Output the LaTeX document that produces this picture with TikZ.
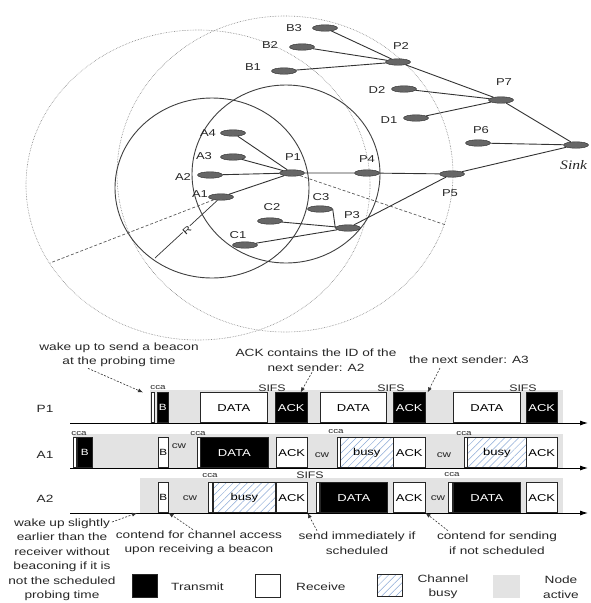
\documentclass[tikz,border=0pt]{standalone}
\usepackage{fontspec}
\setmainfont{Liberation Sans}[FakeStretch=1.3]
\newfontfamily\sinkfont{Liberation Serif}[FakeStretch=1.2]
\usetikzlibrary{arrows.meta,shapes.geometric,patterns.meta}

\definecolor{hatch}{RGB}{140,170,215}
\newcommand{\labfont}{\fontsize{10}{12}\selectfont}
\newcommand{\notefont}{\fontsize{10.5}{14.5}\selectfont}
\newcommand{\ccafont}{\fontsize{7.5}{8}\selectfont}
\newcommand{\cwfont}{\fontsize{9}{10}\selectfont}
\newcommand{\sifsfont}{\fontsize{9.5}{10}\selectfont}

\tikzset{
  mote/.style={ellipse, draw=black!85, fill=black!60, minimum width=25pt, minimum height=6.5pt, inner sep=0pt},
  link/.style={draw=black!80, line width=0.9pt},
  tag/.style={font=\labfont, text=black!85, inner sep=0pt},
  reach/.style={draw=black!75, line width=0.9pt},
  farreach/.style={draw=black!50, line width=0.6pt, densely dotted},
  spoke/.style={draw=black!65, line width=0.7pt, densely dashed},
  slot/.style={draw=black!85, line width=0.6pt, minimum height=30pt, inner sep=0pt, anchor=south west, font=\labfont},
  tx/.style={slot, fill=black, text=white},
  rx/.style={slot, fill=white},
  busy/.style={slot, preaction={fill=white}, pattern={Lines[angle=45,distance=5pt,line width=0.5pt]}, pattern color=hatch},
  cca/.style={slot, fill=white, minimum width=3pt},
  awake/.style={fill=black!11},
  note/.style={font=\notefont, align=center, text=black!85, inner sep=1pt},
  ccatag/.style={font=\ccafont, text=black!85, inner sep=0pt},
  cwtag/.style={font=\cwfont, text=black!85, inner sep=0pt},
  sifstag/.style={font=\sifsfont, text=black!85, inner sep=0pt},
  hint/.style={draw=black!80, line width=0.6pt, dash pattern=on 2pt off 1.5pt, -{Latex[length=5pt,width=4pt]}},
  timeline/.style={draw=black, line width=0.9pt, -{Latex[length=8pt,width=5pt]}},
}

\begin{document}
\begin{tikzpicture}[x=1pt,y=-1pt]
\useasboundingbox (0,0) rectangle (591,603);

% radio ranges
\draw[farreach] (198,185) ellipse [x radius=172, y radius=155];
\draw[farreach] (285,174) ellipse [x radius=168, y radius=158];
\draw[reach] (212,188) ellipse [x radius=97, y radius=90];
\draw[reach] (286,174) ellipse [x radius=94, y radius=89];

% sensor nodes
\node[mote] (B3) at (325,28) {};
\node[mote] (B2) at (302,47) {};
\node[mote] (B1) at (284,71) {};
\node[mote] (P2) at (398,62) {};
\node[mote] (D2) at (404,89) {};
\node[mote] (D1) at (416,118) {};
\node[mote] (P7) at (501,100) {};
\node[mote] (P6) at (478,143) {};
\node[mote] (Sink) at (576,145) {};
\node[mote] (P1) at (292,173) {};
\node[mote] (P4) at (367,173) {};
\node[mote] (P5) at (452,174) {};
\node[mote] (P3) at (348,228) {};
\node[mote] (C3) at (320,209) {};
\node[mote] (C2) at (270,221) {};
\node[mote] (C1) at (245,245) {};
\node[mote] (A4) at (233,133) {};
\node[mote] (A3) at (233,157) {};
\node[mote] (A2) at (210,175) {};
\node[mote] (A1) at (221,197) {};

\node[tag] (lB3) at (294,28) {B3};
\node[tag] (lB2) at (270,45) {B2};
\node[tag] (lB1) at (253,67) {B1};
\node[tag] (lP2) at (401,46) {P2};
\node[tag] (lD2) at (377,90) {D2};
\node[tag] (lD1) at (389,120) {D1};
\node[tag] (lP7) at (504,82) {P7};
\node[tag] (lP6) at (481,130) {P6};
\node[anchor=west, inner sep=0pt, text=black!85, font=\fontsize{13}{15}\sinkfont\itshape] (lSink) at (560,165) {Sink};
\node[tag] (lP1) at (293,157) {P1};
\node[tag] (lP4) at (367,159) {P4};
\node[tag] (lP5) at (450,193) {P5};
\node[tag] (lP3) at (352,215) {P3};
\node[tag] (lC3) at (321,197) {C3};
\node[tag] (lC2) at (272,207) {C2};
\node[tag] (lC1) at (238,235) {C1};
\node[tag] (lA4) at (208,133) {A4};
\node[tag] (lA3) at (204,156) {A3};
\node[tag] (lA2) at (183,177) {A2};
\node[tag] (lA1) at (200,194) {A1};

% routes
\draw[link] (B3) -- (P2);
\draw[link] (B2) -- (P2);
\draw[link] (B1) -- (P2);
\draw[link] (P2) -- (P7);
\draw[link] (D2) -- (P7);
\draw[link] (D1) -- (P7);
\draw[link] (P7) -- (Sink);
\draw[link] (P6) -- (Sink);
\draw[link] (P5) -- (Sink);
\draw[link] (P1) -- (P4) -- (P5);
\draw[link] (P3) -- (P5);
\draw[link] (C3.east) -- (P3.west);
\draw[link] (C2) -- (P3);
\draw[link] (C1) -- (P3);
\draw[link] (A4) -- (P1);
\draw[link] (A3) -- (P1);
\draw[link] (A2) -- (P1);
\draw[link] (A1) -- (P1);

% radii
\coordinate (rEnd) at (155,258);
\coordinate (lEnd) at (50,263);
\coordinate (pEnd) at (446,225);
\draw[link, line width=0.7pt] (A1) -- (rEnd);
\node[tag, font=\fontsize{9}{10}\selectfont, rotate=42, fill=white, inner sep=0.5pt] (lR) at (187,230) {R};
\draw[spoke] (A1) -- (lEnd);
\draw[spoke] (P1) -- (pEnd);

% timing: node active
\fill[awake] (150,390) rectangle (563,423);
\fill[awake] (73,434) rectangle (563,468);
\fill[awake] (140,478) rectangle (563,513);

\node[tag, font=\notefont] (rP1) at (45,409) {P1};
\node[tag, font=\notefont] (rA1) at (45,455) {A1};
\node[tag, font=\notefont] (rA2) at (45,499) {A2};

% P1 row
\node[cca] (p1cca) at (151,423) {};
\node[tx, minimum width=11pt, font=\fontsize{9}{10}\selectfont] (p1b) at (157,423) {B};
\node[rx, minimum width=67pt] (p1d1) at (200,423) {DATA};
\node[tx, minimum width=32pt] (p1k1) at (275,423) {ACK};
\node[rx, minimum width=66pt] (p1d2) at (320,423) {DATA};
\node[tx, minimum width=32pt] (p1k2) at (393,423) {ACK};
\node[rx, minimum width=67pt] (p1d3) at (453,423) {DATA};
\node[tx, minimum width=31pt] (p1k3) at (526,423) {ACK};
\node[ccatag] (c1) at (158,388) {cca};
\node[sifstag] (s1) at (272,388) {SIFS};
\node[sifstag] (s2) at (391,388) {SIFS};
\node[sifstag] (s3) at (523,388) {SIFS};

% A1 row
\node[cca] (a1cca1) at (73,468) {};
\node[tx, minimum width=15pt, font=\fontsize{9}{10}\selectfont] (a1b1) at (77,468) {B};
\node[rx, minimum width=10pt, font=\fontsize{9}{10}\selectfont] (a1b2) at (158,468) {B};
\node[cca] (a1cca2) at (197,468) {};
\node[tx, minimum width=68pt] (a1d) at (200,468) {DATA};
\node[rx, minimum width=31pt] (a1k1) at (276,468) {ACK};
\node[cca] (a1cca3) at (337,468) {};
\node[busy, minimum width=53pt] (a1y1) at (340,468) {busy};
\node[rx, minimum width=32pt] (a1k2) at (393,468) {ACK};
\node[cca] (a1cca4) at (464,468) {};
\node[busy, minimum width=59pt] (a1y2) at (467,468) {busy};
\node[rx, minimum width=31pt] (a1k3) at (526,468) {ACK};
\node[ccatag] (c2) at (79,434) {cca};
\node[cwtag] (w1) at (179,446) {cw};
\node[ccatag] (c3) at (198,434) {cca};
\node[cwtag] (w2) at (322,455) {cw};
\node[ccatag] (c4) at (336,432) {cca};
\node[cwtag] (w3) at (444,455) {cw};
\node[ccatag] (c5) at (464,434) {cca};

% A2 row
\node[rx, minimum width=10pt, font=\fontsize{9}{10}\selectfont] (a2b) at (158,513) {B};
\node[cca, minimum width=4pt] (a2cca1) at (208,513) {};
\node[busy, minimum width=62pt] (a2y) at (213,513) {busy};
\node[rx, minimum width=31pt] (a2k1) at (276,513) {ACK};
\node[cca] (a2cca2) at (316,513) {};
\node[tx, minimum width=67pt] (a2d1) at (320,513) {DATA};
\node[rx, minimum width=32pt] (a2k2) at (393,513) {ACK};
\node[cca, minimum width=4pt] (a2cca3) at (448,513) {};
\node[tx, minimum width=67pt] (a2d2) at (453,513) {DATA};
\node[rx, minimum width=31pt] (a2k3) at (526,513) {ACK};
\node[cwtag] (w4) at (190,498) {cw};
\node[ccatag] (c6) at (210,476) {cca};
\node[sifstag] (s4) at (310,475) {SIFS};
\node[cwtag] (w5) at (438,498) {cw};
\node[ccatag] (c7) at (452,475) {cca};

% time axes
\coordinate (p1s) at (70,423);
\coordinate (p1e) at (588,423);
\coordinate (a1s) at (70,468);
\coordinate (a1e) at (588,468);
\coordinate (a2s) at (70,513);
\coordinate (a2e) at (588,513);
\draw[timeline] (p1s) -- (p1e);
\draw[timeline] (a1s) -- (a1e);
\draw[timeline] (a2s) -- (a2e);

% notes
\node[note] (wakeP1) at (119,355) {wake up to send a beacon\\at the probing time};
\draw[hint] ([xshift=-31pt]wakeP1.south) -- ([xshift=-8pt]p1cca.north west);
\node[note] (ackA2) at (316,360) {ACK contains the ID of the\\next sender: A2};
\draw[hint] ([xshift=-4pt]ackA2.south) -- ([xshift=-7pt]p1k1.north east);
\node[note] (nextA3) at (469,360) {the next sender: A3};
\draw[hint] ([xshift=-29pt,yshift=-3pt]nextA3.south) -- ([xshift=2pt]p1k2.north east);

\node[note, text width=110pt] (wakeA2) at (62,560) {wake up slightly\\earlier than the\\receiver without\\beaconing if it is\\not the scheduled\\probing time};
\coordinate (wakeA2from) at (112,522);
\coordinate (a2wake) at (140,513);
\draw[hint] (wakeA2from) -- ([xshift=-3pt]a2wake);
\node[note] (chanNote) at (199,543) {contend for channel access\\upon receiving a beacon};
\draw[hint] ([xshift=-6pt]chanNote.north) -- (a2b.south east);
\node[note] (sendNote) at (357,543) {send immediately if\\scheduled};
\draw[hint] ([xshift=-40pt]sendNote.north) -- (a2k1.south east);
\node[note] (contNote) at (497,543) {contend for sending\\if not scheduled};
\draw[hint] ([xshift=-49pt]contNote.north) -- (a2k2.south east);

% legend
\node[tx, minimum width=25pt, minimum height=23pt] (kTx) at (132,598) {};
\node[note, anchor=west] (lTx) at (170,587) {Transmit};
\node[rx, minimum width=25pt, minimum height=23pt] (kRx) at (255,598) {};
\node[note, anchor=west] (lRx) at (295,587) {Receive};
\node[busy, minimum width=25pt, minimum height=22pt] (kBusy) at (377,597) {};
\node[note] (lBusy) at (443,587) {Channel\\busy};
\node[slot, draw=none, fill=black!11, minimum width=27pt, minimum height=23pt] (kAwake) at (493,598) {};
\node[note] (lAwake) at (561,587) {Node\\active};
\end{tikzpicture}
\end{document}
